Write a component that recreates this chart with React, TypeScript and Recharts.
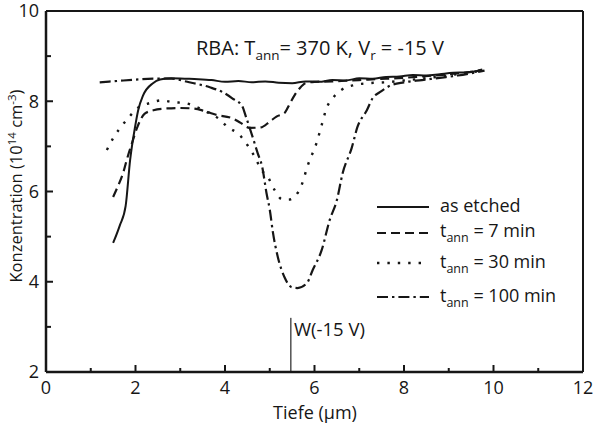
import React from 'react';
import { LineChart, Line, XAxis, YAxis, ReferenceLine } from 'recharts';

const xTicks = [0, 1, 2, 3, 4, 5, 6, 7, 8, 9, 10, 11, 12];
const yTicks = [2, 3, 4, 5, 6, 7, 8, 9, 10];

const etchedX = [1.5, 1.65, 1.78, 1.88, 1.99, 2.06, 2.17, 2.39, 2.55, 2.8, 3.1, 3.4, 3.7, 4.0, 4.3, 4.6, 4.9, 5.2, 5.5, 5.8, 6.1, 6.4, 6.7, 7.0, 7.3, 7.6, 7.9, 8.2, 8.5, 8.8, 9.1, 9.4, 9.7];
const etchedY = [4.86, 5.25, 5.68, 6.7, 7.43, 7.8, 8.13, 8.4, 8.48, 8.51, 8.5, 8.49, 8.47, 8.43, 8.45, 8.42, 8.44, 8.41, 8.4, 8.44, 8.43, 8.47, 8.46, 8.51, 8.5, 8.54, 8.55, 8.58, 8.57, 8.6, 8.63, 8.64, 8.68];

const ann7X = [1.5, 1.6, 1.72, 1.81, 1.92, 2.05, 2.2, 2.4, 2.7, 3.0, 3.3, 3.55, 3.8, 4.17, 4.35, 4.55, 4.8, 5.0, 5.15, 5.33, 5.45, 5.56, 5.67, 5.8, 6.0, 6.4, 6.8, 7.2, 7.6, 8.0, 8.4, 8.8, 9.2, 9.5, 9.75];
const ann7Y = [5.88, 6.1, 6.4, 6.72, 7.07, 7.45, 7.72, 7.8, 7.84, 7.85, 7.84, 7.78, 7.7, 7.62, 7.52, 7.41, 7.42, 7.55, 7.66, 7.74, 7.95, 8.14, 8.29, 8.4, 8.43, 8.44, 8.46, 8.48, 8.5, 8.52, 8.55, 8.58, 8.62, 8.65, 8.7];

const ann30X = [1.36, 1.5, 1.65, 1.83, 2.05, 2.32, 2.59, 2.83, 3.1, 3.37, 3.6, 3.84, 4.06, 4.33, 4.5, 4.67, 4.8, 4.97, 5.11, 5.27, 5.42, 5.55, 5.71, 5.85, 6.05, 6.16, 6.27, 6.41, 6.6, 6.85, 7.2, 7.6, 8.0, 8.4, 8.8, 9.2, 9.5, 9.8];
const ann30Y = [6.92, 7.18, 7.4, 7.62, 7.85, 7.96, 8.02, 7.98, 7.96, 7.87, 7.76, 7.63, 7.43, 7.25, 7.03, 6.76, 6.5, 6.3, 6.03, 5.83, 5.82, 5.88, 6.14, 6.58, 7.09, 7.47, 7.85, 8.07, 8.25, 8.35, 8.4, 8.42, 8.46, 8.5, 8.55, 8.6, 8.64, 8.7];

const ann100X = [1.2, 1.6, 2.0, 2.4, 2.8, 3.2, 3.66, 3.95, 4.17, 4.38, 4.47, 4.62, 4.73, 4.83, 4.93, 5.0, 5.07, 5.18, 5.33, 5.49, 5.62, 5.83, 5.96, 6.16, 6.34, 6.5, 6.63, 6.83, 6.96, 7.17, 7.3, 7.46, 7.7, 8.0, 8.4, 8.8, 9.2, 9.5, 9.8];
const ann100Y = [8.42, 8.45, 8.48, 8.5, 8.5, 8.42, 8.31, 8.2, 8.06, 7.9, 7.65, 7.2, 6.85, 6.55, 5.95, 5.6, 5.1, 4.55, 4.1, 3.88, 3.86, 3.97, 4.26, 4.7, 5.37, 5.81, 6.41, 6.96, 7.43, 7.8, 8.07, 8.2, 8.35, 8.42, 8.47, 8.52, 8.57, 8.62, 8.68];

const depletionX = 5.47;
const depletionTop = 3.2;

const zip = (xs: number[], ys: number[]) => xs.map((x, i) => ({ x, y: ys[i] }));

const FONT = '"Open Sans", "Noto Sans", sans-serif';
const INK = '#161616';

const DASH = '9 5';
const DOT = '2.4 8';
const DASHDOT = '11 4 2.4 4';

function XTick(props: any) {
  const { x, y, payload } = props;
  const v = payload.value;
  const major = v % 2 === 0;
  return (
    <g>
      {v > 0 && v < 12 && (
        <line x1={x} x2={x} y1={y} y2={y - (major ? 7 : 4)} stroke={INK} strokeWidth={2} />
      )}
      {major && (
        <text x={x} y={y + 16} dy="0.35em" textAnchor="middle" fontSize={18} fill={INK} fontFamily={FONT}>
          {v}
        </text>
      )}
    </g>
  );
}

function YTick(props: any) {
  const { x, y, payload } = props;
  const v = payload.value;
  const major = v % 2 === 0;
  return (
    <g>
      {v > 2 && v < 10 && (
        <line x1={x} x2={x + (major ? 7 : 5)} y1={y} y2={y} stroke={INK} strokeWidth={2} />
      )}
      {major && (
        <text x={x - 7} y={y} dy="0.35em" textAnchor="end" fontSize={18} fill={INK} fontFamily={FONT}>
          {v}
        </text>
      )}
    </g>
  );
}

const legendRows = [
  { label: 'as etched', dash: undefined as string | undefined, sub: false, lineY: 207, textY: 212 },
  { label: ' = 7 min', dash: DASH, sub: true, lineY: 233, textY: 237 },
  { label: ' = 30 min', dash: DOT, sub: true, lineY: 263, textY: 268 },
  { label: ' = 100 min', dash: DASHDOT, sub: true, lineY: 297, textY: 302 },
];

export default function App() {
  return (
    <div style={{ position: 'absolute', left: 0, top: 0, width: 595, height: 427, background: '#fff' }}>
      <LineChart width={595} height={427} margin={{ top: 11, right: 12, bottom: 0, left: 0 }} style={{ overflow: 'visible' }}>
        <XAxis
          type="number"
          dataKey="x"
          domain={[0, 12]}
          ticks={xTicks}
          interval={0}
          height={55}
          tickSize={0}
          tickMargin={0}
          tickLine={false}
          axisLine={{ stroke: INK, strokeWidth: 2.5 }}
          tick={<XTick />}
          allowDataOverflow
        />
        <YAxis
          type="number"
          dataKey="y"
          domain={[2, 10]}
          ticks={yTicks}
          interval={0}
          width={46}
          tickSize={0}
          tickMargin={0}
          tickLine={false}
          axisLine={{ stroke: INK, strokeWidth: 2.5 }}
          tick={<YTick />}
          allowDataOverflow
        />
        <ReferenceLine y={10} stroke={INK} strokeWidth={2} ifOverflow="visible" />
        <ReferenceLine x={12} stroke={INK} strokeWidth={2} ifOverflow="visible" />
        <ReferenceLine
          segment={[{ x: depletionX, y: 2 }, { x: depletionX, y: depletionTop }]}
          stroke="#5a5a5a"
          strokeWidth={1.6}
        />
        <Line data={zip(etchedX, etchedY)} dataKey="y" type="monotone" stroke={INK} strokeWidth={2} dot={false} isAnimationActive={false} />
        <Line data={zip(ann7X, ann7Y)} dataKey="y" type="monotone" stroke={INK} strokeWidth={2.2} strokeDasharray={DASH} dot={false} isAnimationActive={false} />
        <Line data={zip(ann30X, ann30Y)} dataKey="y" type="monotone" stroke={INK} strokeWidth={2.4} strokeDasharray={DOT} dot={false} isAnimationActive={false} />
        <Line data={zip(ann100X, ann100Y)} dataKey="y" type="monotone" stroke={INK} strokeWidth={2.2} strokeDasharray={DASHDOT} dot={false} isAnimationActive={false} />
      </LineChart>
      <svg
        width={595}
        height={427}
        style={{ position: 'absolute', left: 0, top: 0, pointerEvents: 'none' }}
        fontFamily={FONT}
        fill={INK}
      >
        <text x={196} y={55} fontSize={20} style={{ whiteSpace: 'pre' }}>
          RBA: T<tspan fontSize={13.5} dy={5}>ann</tspan>
          <tspan dy={-5}>{'= 370 K, V'}</tspan>
          <tspan fontSize={13.5} dy={5}>r</tspan>
          <tspan dy={-5}>{' = -15 V'}</tspan>
        </text>
        {legendRows.map((r, i) => (
          <g key={i}>
            <line x1={377} x2={429} y1={r.lineY} y2={r.lineY} stroke={INK} strokeWidth={r.dash === DOT ? 2.4 : 2.2} strokeDasharray={r.dash} />
            <text x={440} y={r.textY} fontSize={18} style={{ whiteSpace: 'pre' }}>
              {r.sub ? (
                <>
                  t<tspan fontSize={12.5} dy={5}>ann</tspan>
                  <tspan dy={-5}>{r.label}</tspan>
                </>
              ) : (
                r.label
              )}
            </text>
          </g>
        ))}
        <text x={294} y={336} fontSize={18.5} style={{ whiteSpace: 'pre' }}>W(-15 V)</text>
        <text x={315} y={419} fontSize={18} textAnchor="middle">Tiefe (µm)</text>
        <text transform="rotate(-90)" x={-186} y={22} fontSize={16.5} textAnchor="middle" style={{ whiteSpace: 'pre' }}>
          Konzentration (10<tspan fontSize={11.5} dy={-6}>14</tspan>
          <tspan dy={6}>{' cm'}</tspan>
          <tspan fontSize={11.5} dy={-6}>-3</tspan>
          <tspan dy={6}>)</tspan>
        </text>
      </svg>
    </div>
  );
}
